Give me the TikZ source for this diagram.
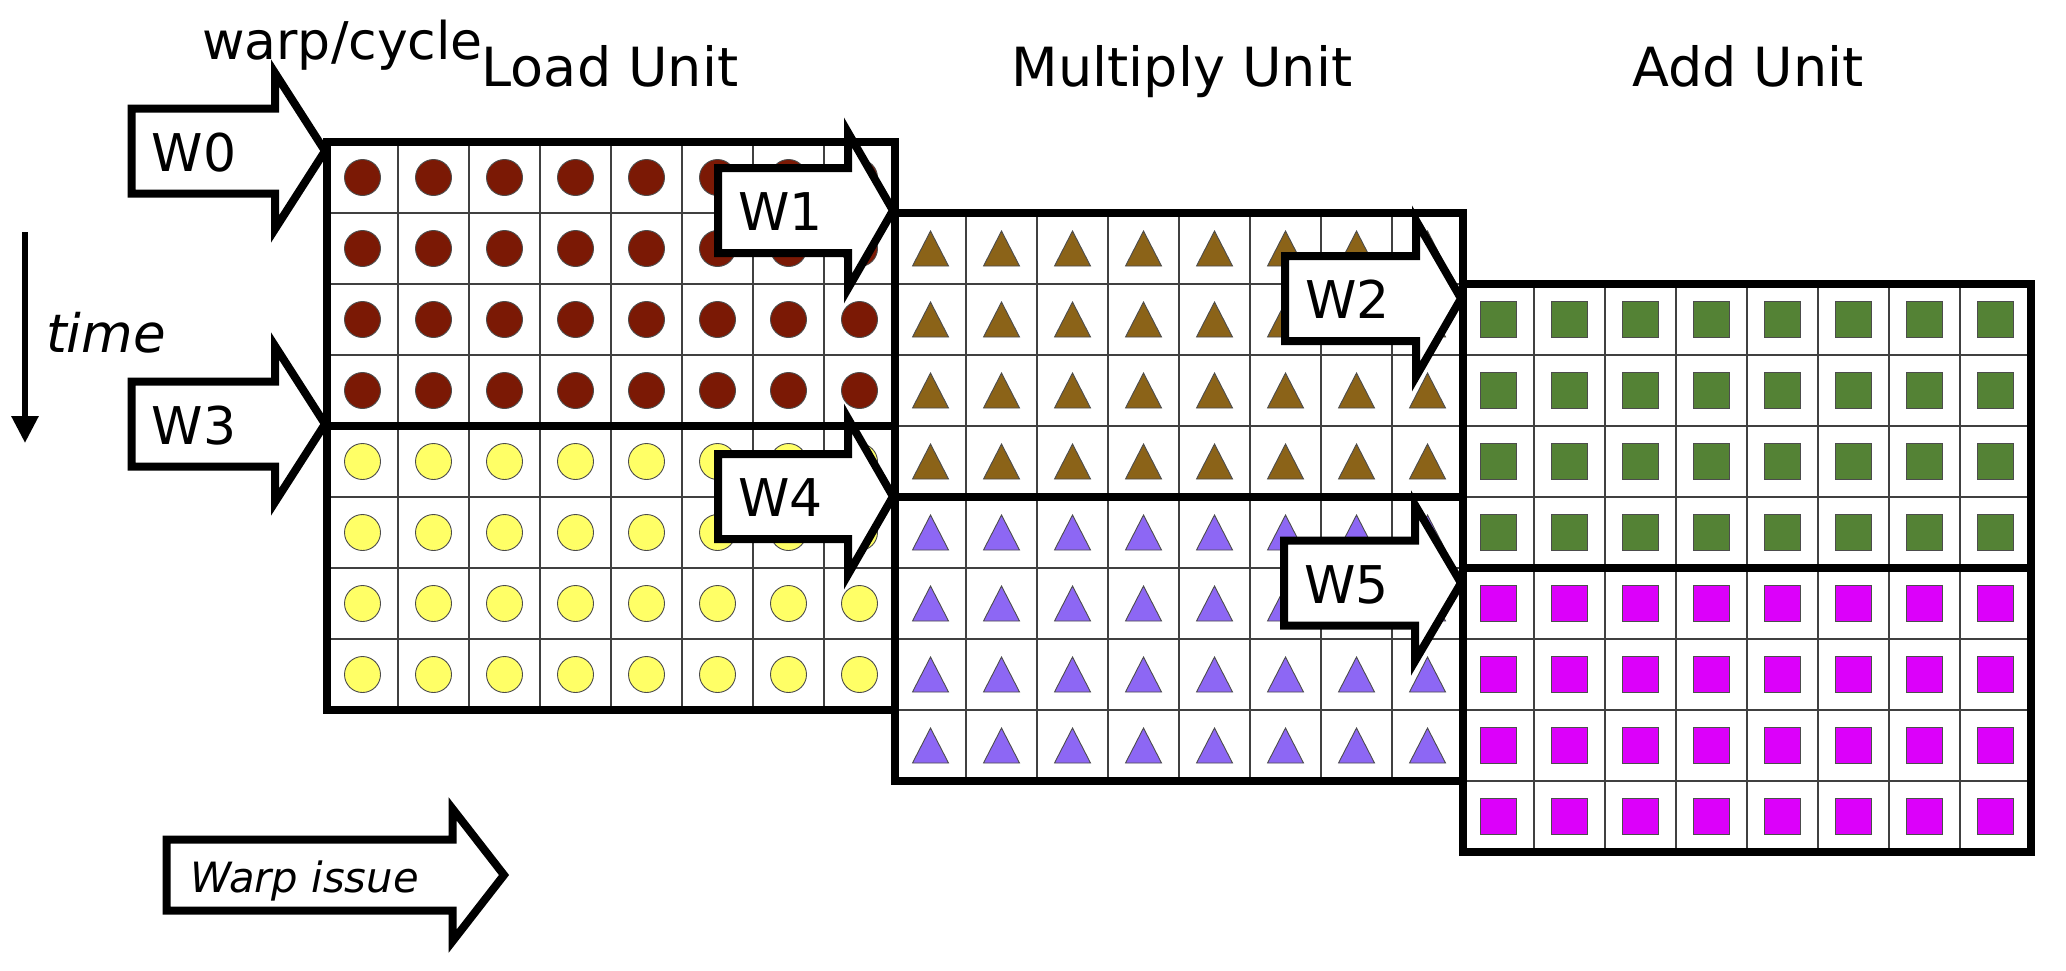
\documentclass[tikz,border=0pt]{standalone}
\usepackage{fontspec}
\setmainfont{DejaVu Sans}
\usetikzlibrary{arrows.meta}
\definecolor{ldred}{RGB}{123,25,5}
\definecolor{ldyel}{RGB}{255,255,102}
\definecolor{mbrown}{RGB}{139,99,24}
\definecolor{mpurple}{RGB}{141,103,244}
\definecolor{agreen}{RGB}{84,130,53}
\definecolor{amag}{RGB}{220,0,250}
\newcommand\warpArrow[6]{%
  \draw[arrowbox] (#2,#5-42.5) -- (#3,#5-42.5) -- (#3,#5-78) -- (#4,#5) -- (#3,#5+78) -- (#3,#5+42.5) -- (#2,#5+42.5) -- cycle;
  \node[wlabel] (#1) at (#2+20,#5+20) {#6};
}
\begin{document}
\begin{tikzpicture}[x=1pt,y=-1pt,
  gridline/.style={line width=1.2pt, draw=black!75},
  cellshape/.style={line width=0.9pt, draw=black!70},
  thickbox/.style={line width=8pt, draw=black},
  arrowbox/.style={line width=8pt, draw=black, fill=white, line join=miter},
  wlabel/.style={font=\fontsize{52}{60}\selectfont, inner sep=0pt, anchor=base west},
  unitlabel/.style={font=\fontsize{54}{62}\selectfont, inner sep=0pt, anchor=base},
]
\useasboundingbox (0,0) rectangle (2066,970);
\fill[white] (0,0) rectangle (2066,970);

% ---- thin grid lines
\foreach \X/\Y in {327/142, 895/213, 1463/284}{
  \foreach \k in {1,...,7}{
    \draw[gridline] (\X+\k*71,\Y) -- ++(0,568);
    \draw[gridline] (\X,\Y+\k*71) -- ++(568,0);
  }
}

% ---- Load unit circles
\foreach \i in {0,...,7}{
  \foreach \j in {0,...,3}{
    \draw[cellshape, fill=ldred] (327+35.5+71*\i,142+35.5+71*\j) circle[radius=18pt];
  }
  \foreach \j in {4,...,7}{
    \draw[cellshape, fill=ldyel] (327+35.5+71*\i,142+35.5+71*\j) circle[radius=18pt];
  }
}
% ---- Multiply unit triangles
\foreach \i in {0,...,7}{
  \foreach \j in {0,...,3}{
    \draw[cellshape, fill=mbrown] (895+35.5+71*\i-18,213+35.5+71*\j+17.5) -- ++(36,0) -- ++(-18,-35) -- cycle;
  }
  \foreach \j in {4,...,7}{
    \draw[cellshape, fill=mpurple] (895+35.5+71*\i-18,213+35.5+71*\j+17.5) -- ++(36,0) -- ++(-18,-35) -- cycle;
  }
}
% ---- Add unit squares
\foreach \i in {0,...,7}{
  \foreach \j in {0,...,3}{
    \draw[cellshape, fill=agreen] (1463+35.5+71*\i-18,284+35.5+71*\j-18) rectangle ++(36,36);
  }
  \foreach \j in {4,...,7}{
    \draw[cellshape, fill=amag] (1463+35.5+71*\i-18,284+35.5+71*\j-18) rectangle ++(36,36);
  }
}

% ---- warp arrows
\warpArrow{W0}{131.5}{275}{325}{151}{W0}
\warpArrow{W3}{131.5}{275}{325}{424}{W3}
\warpArrow{W1}{718}{848}{893}{210.5}{W1}
\warpArrow{W4}{718}{848}{893}{496.5}{W4}
\warpArrow{W2}{1285}{1416}{1461}{298.5}{W2}
\warpArrow{W5}{1284}{1415}{1461}{583}{W5}

% ---- thick unit borders
\draw[thickbox] (327,142) rectangle (895,710);
\draw[thickbox] (327,426) -- (895,426);
\draw[thickbox] (895,213) rectangle (1463,781);
\draw[thickbox] (895,497) -- (1463,497);
\draw[thickbox] (1463,284) rectangle (2031,852);
\draw[thickbox] (1463,568) -- (2031,568);

% ---- labels
\node[font=\fontsize{52}{60}\selectfont, inner sep=0pt, anchor=base west] (wpc) at (202,59) {warp/cycle};
\node[unitlabel] (load) at (610,86) {Load Unit};
\node[unitlabel] (mult) at (1182,86) {Multiply Unit};
\node[unitlabel] (add) at (1748,86) {Add Unit};

% ---- time arrow
\coordinate (t0) at (25,232);
\coordinate (t1) at (25,443);
\draw[line width=6pt, -{Triangle[width=26pt,length=27pt]}] (t0) -- (t1);
\node[font=\fontsize{53}{62}\selectfont\itshape, inner sep=0pt, anchor=base west] (time) at (46,352) {time};

% ---- warp issue arrow
\draw[arrowbox] (166.7,839.5) -- (452.7,839.5) -- (452.7,809) -- (504,875) -- (452.7,941) -- (452.7,910.5) -- (166.7,910.5) -- cycle;
\node[font=\fontsize{41.7}{50}\selectfont\itshape, inner sep=0pt, anchor=base west] (issue) at (190,892) {Warp issue};
\end{tikzpicture}
\end{document}
